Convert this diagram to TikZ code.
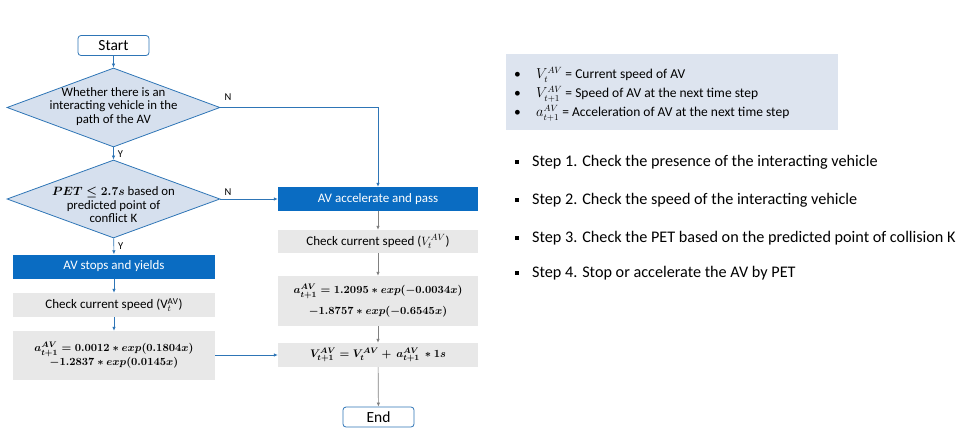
\documentclass[tikz,border=0pt]{standalone}
\usepackage{amsmath,bm}
\usepackage{fontspec}
\setmainfont{Carlito}
\usetikzlibrary{shapes.geometric,arrows.meta}
\definecolor{cBlue}{HTML}{2E75B6}
\definecolor{cDark}{HTML}{0A6CC2}
\definecolor{cDia}{HTML}{D6E0EE}
\definecolor{cGray}{HTML}{E8E8E8}
\definecolor{cArrG}{HTML}{808080}
\definecolor{cLeg}{HTML}{DDE4EF}
\newcommand{\bmf}[1]{\mbox{\boldmath$#1$}}
\begin{document}
\begin{tikzpicture}[x=1pt,y=-1pt,
  term/.style={draw=cBlue, line width=0.8pt, fill=white, rounded corners=3pt, minimum width=71pt, minimum height=20pt, inner sep=0pt, font=\fontsize{15.5}{17}\selectfont},
  dia/.style={diamond, draw=cBlue, fill=cDia, line width=0.8pt, inner sep=0pt},
  diatext/.style={align=center, inner sep=0pt, font=\fontsize{12.8}{13.5}\selectfont},
  bluebox/.style={fill=cDark, text=white, minimum height=24pt, inner sep=0pt, font=\fontsize{13}{15}\selectfont},
  graybox/.style={fill=cGray, inner sep=0pt, align=center, font=\fontsize{13}{15}\selectfont},
  fsmall/.style={font=\fontsize{10.8}{12.5}\selectfont},
  arr/.style={-{Latex[length=4pt,width=3.5pt]}, draw=cBlue, line width=0.7pt},
  garr/.style={-{Latex[length=4pt,width=3.5pt]}, draw=cArrG, line width=0.7pt},
  yn/.style={inner sep=0pt, font=\fontsize{10.5}{12}\selectfont},
  legtext/.style={anchor=west, inner sep=0pt, font=\fontsize{13.5}{15}\selectfont},
  steptext/.style={anchor=west, inner sep=0pt, font=\fontsize{16.2}{18}\selectfont},
  sqbul/.style={fill=black, minimum size=4.5pt, inner sep=0pt}
]
\useasboundingbox (0,0) rectangle (970,437);

% left column
\node[term] (start) at (113.5,45.5) {Start};
\node[dia, minimum width=213pt, minimum height=79pt] (d1) at (113.5,107.5) {};
\node[diatext] (d1t) at (113.5,106.5) {Whether there is an\\interacting vehicle in the\\path of the AV};
\node[dia, minimum width=213pt, minimum height=78pt] (d2) at (113.5,199) {};
\node[diatext] (d2t) at (113.5,205) {{\fontsize{12}{13.5}\selectfont\bmf{PET \le 2.7s}} based on\\predicted point of\\conflict K};
\node[bluebox, minimum width=202pt] (stop) at (114,266.5) {AV stops and yields};
\node[graybox, minimum width=202pt, minimum height=24pt] (chkL) at (114,305) {Check current speed (V$_{t}^{\mathrm{AV}}$)};
\node[graybox, fsmall, minimum width=202pt, minimum height=49pt] (formL) at (114,355.5) {\bmf{a_{t+1}^{AV} = 0.0012 * exp(0.1804x)}\\\bmf{-1.2837 * exp(0.0145x)}};

% right column
\node[bluebox, minimum width=200pt] (acc) at (378,199) {AV accelerate and pass};
\node[graybox, minimum width=200pt, minimum height=23pt] (chkR) at (378,241.5) {Check current speed ($V_{t}^{AV}$)};
\node[graybox, fsmall, minimum width=200pt, minimum height=50pt] (formR) at (378,301) {\bmf{a_{t+1}^{AV} = 1.2095 * exp(-0.0034x)}\\[7pt]\bmf{-1.8757 * exp(-0.6545x)}};
\node[graybox, fsmall, minimum width=200pt, minimum height=24pt] (vbox) at (378,355) {\bmf{V_{t+1}^{AV} = V_{t}^{AV} + \,a_{t+1}^{AV}\, * 1s}};
\node[term] (end) at (378.5,417) {End};

% connectors
\draw[arr] (start) -- (d1);
\draw[arr] (d1) -- node[yn, pos=0.55, right=4pt] (y1) {Y} (d2);
\draw[arr] (d2) -- node[yn, pos=0.5, right=4pt] (y2) {Y} (stop);
\draw[arr] (stop) -- (chkL);
\draw[arr] (chkL) -- (formL);
\draw[arr] (formL.east |- vbox) -- (vbox.west);
\draw[arr] (d1.east) -| (acc.north);
\node[yn] (n1) at (228,97) {N};
\draw[arr] (d2.east) -- (acc.west);
\node[yn] (n2) at (228,192) {N};
\draw[garr] (acc) -- (chkR);
\draw[garr] (chkR) -- (formR);
\draw[garr] (formR) -- (vbox);
\draw[garr] (vbox) -- (end);

% legend
\node[fill=cLeg, minimum width=332pt, minimum height=76pt, inner sep=0pt] (legend) at (672,92) {};
\node[legtext] (lb1) at (514,75) {•};
\node[legtext] (lb2) at (514,94) {•};
\node[legtext] (lb3) at (514,113) {•};
\node[legtext] (lt1) at (536,75) {$V_{t}^{AV}$ = Current speed of AV};
\node[legtext] (lt2) at (536,94) {$V_{t+1}^{AV}$ = Speed of AV at the next time step};
\node[legtext] (lt3) at (536,113) {$a_{t+1}^{AV}$ = Acceleration of AV at the next time step};

% steps
\node[sqbul] (s1b) at (517,162) {};
\node[sqbul] (s2b) at (517,200) {};
\node[sqbul] (s3b) at (517,238) {};
\node[sqbul] (s4b) at (517,273) {};
\node[steptext] (s1) at (532,162) {Step 1. Check the presence of the interacting vehicle};
\node[steptext] (s2) at (532,200) {Step 2. Check the speed of the interacting vehicle};
\node[steptext] (s3) at (532,238) {Step 3. Check the PET based on the predicted point of collision K};
\node[steptext] (s4) at (532,273) {Step 4. Stop or accelerate the AV by PET};
\end{tikzpicture}
\end{document}
